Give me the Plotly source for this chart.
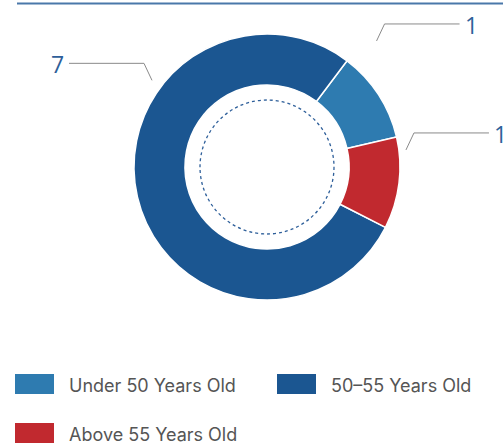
import math
import plotly.graph_objects as go

# ---- data ----
categories = ["Under 50 Years Old", "50-55 Years Old", "Above 55 Years Old"]
values = [1, 7, 1]
colors = ["#2E7BB0", "#1B5691", "#C1292F"]

# ---- layout geometry (pixels) ----
W, H = 503, 445
cx, cy = 267, 167
r_out = 133
hole = 0.617
r_dot = 67


def px(x):
    return x / W


def py(y):
    return 1 - y / H


fig = go.Figure()
fig.add_trace(go.Pie(
    labels=categories,
    values=values,
    marker=dict(colors=colors, line=dict(color="white", width=1.5)),
    hole=hole,
    sort=False,
    direction="counterclockwise",
    rotation=37,
    textinfo="none",
    hoverinfo="label+value",
    showlegend=False,
    domain=dict(x=[px(cx - r_out), px(cx + r_out)], y=[py(cy + r_out), py(cy - r_out)]),
))

shapes = []
annotations = []

# top rule
shapes.append(dict(type="line", xref="paper", yref="paper",
                   x0=px(17), x1=1, y0=py(3.5), y1=py(3.5),
                   line=dict(color="#4A78AA", width=2)))

# inner dotted circle
shapes.append(dict(type="circle", xref="paper", yref="paper",
                   x0=px(cx - r_dot), x1=px(cx + r_dot),
                   y0=py(cy + r_dot), y1=py(cy - r_dot),
                   line=dict(color="#2E5F9A", width=1.3, dash="dot")))

# leader lines for value labels: (angle from 12 o'clock clockwise, radius, side)
label_geom = {"Under 50 Years Old": (41, 167, 1),
              "Above 55 Years Old": (83, 140, 1),
              "50-55 Years Old": (307, 144, -1)}
for cat, val in zip(categories, values):
    ang, rad, side = label_geom[cat]
    a = math.radians(ang)
    sx, sy = cx + rad * math.sin(a), cy - rad * math.cos(a)
    ex, ey = sx + 8 * side, sy - 17
    hx = ex + 75 * side
    shapes.append(dict(type="path", xref="paper", yref="paper",
                       path=f"M {px(sx)},{py(sy)} L {px(ex)},{py(ey)} L {px(hx)},{py(ey)}",
                       line=dict(color="#8A8A8A", width=1)))
    annotations.append(dict(x=px(hx + 3 * side), y=py(ey + 1), xref="paper", yref="paper",
                            text=str(val), showarrow=False,
                            xanchor="left" if side > 0 else "right", yanchor="middle",
                            font=dict(family="Open Sans", size=23, color="#2E5F9A")))

# custom legend
legend_pos = [(15, 374), (277, 374), (15, 423)]
for (lx, ly), cat, col in zip(legend_pos, categories, colors):
    shapes.append(dict(type="rect", xref="paper", yref="paper",
                       x0=px(lx), x1=px(lx + 39), y0=py(ly + 20), y1=py(ly),
                       fillcolor=col, line=dict(width=0)))
    annotations.append(dict(x=px(lx + 52), y=py(ly + 11), xref="paper", yref="paper",
                            text=cat.replace("50-55", "50–55"), showarrow=False,
                            xanchor="left", yanchor="middle",
                            font=dict(family="Inter", size=18, color="#555555")))

fig.update_layout(
    width=W, height=H,
    margin=dict(l=0, r=0, t=0, b=0),
    paper_bgcolor="white", plot_bgcolor="white",
    shapes=shapes, annotations=annotations,
)

fig.write_html("out.html", config={"displayModeBar": False},
               post_script="document.body.style.margin='0px';document.body.style.overflow='hidden';")
